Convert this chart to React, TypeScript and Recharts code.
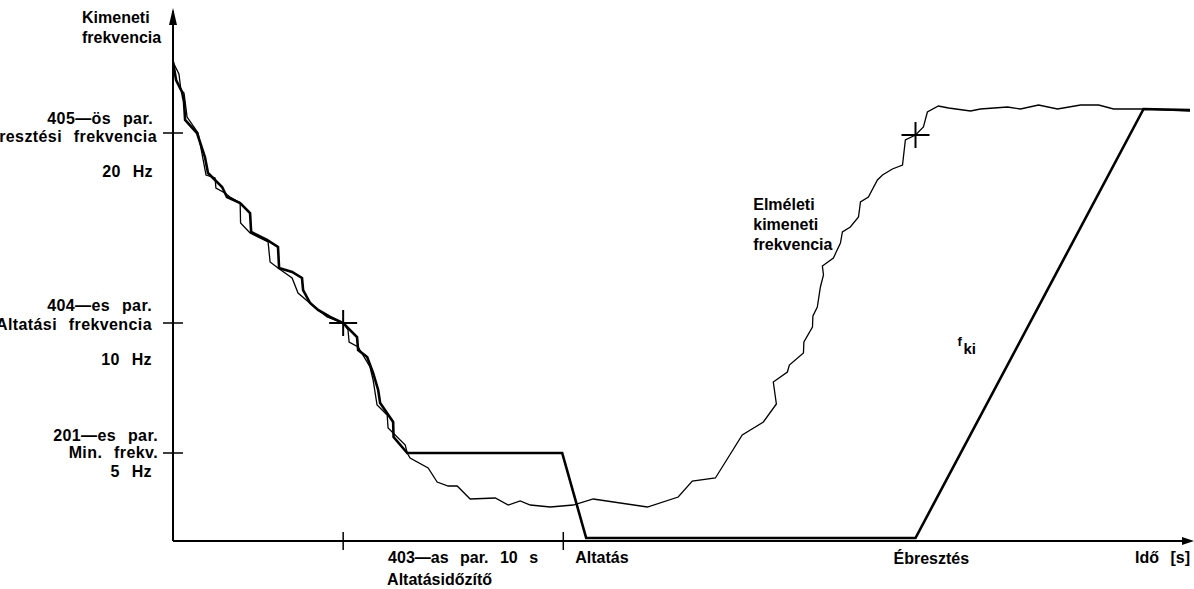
import React from 'react';
import { ComposedChart, Line, XAxis, YAxis, ReferenceDot } from 'recharts';

// ---------- data ----------
// time in seconds, frequency level in diagram units (axis bottom = 0)
const outputTime = [0, 0.14, 0.41, 0.5, 0.55, 1.09, 1.45, 1.59, 2.23, 2.45, 3.05, 3.5, 3.55, 4.27, 4.77, 4.82, 5.41, 5.86, 5.91, 6.23, 6.59, 7.14, 7.73, 8.36, 8.41, 8.82, 9.09, 9.32, 9.41, 10.0, 10.02, 10.64, 17.68, 18.77, 33.73, 44.09, 46.2];
const outputFreq = [479, 461, 449, 439, 421, 408, 384, 368, 354, 344, 338, 328, 309, 301, 294, 273, 269, 263, 251, 238, 231, 224, 218, 204, 191, 184, 168, 151, 138, 119, 104, 88, 88, 3, 3, 432, 431];

const theoryTime = [0, 0.27, 0.36, 0.5, 0.64, 1.14, 1.5, 1.91, 1.95, 2.36, 2.59, 3.05, 3.07, 3.5, 4.32, 4.41, 4.77, 5.41, 5.68, 6.32, 7.0, 7.73, 7.95, 8.0, 8.41, 8.95, 9.09, 9.27, 9.73, 9.77, 10.55, 10.64, 10.77, 11.59, 12.0, 12.5, 12.91, 13.5, 14.64, 15.23, 15.77, 16.23, 17.14, 18.18, 19.09, 21.55, 22.95, 23.59, 24.64, 25.86, 26.82, 27.41, 27.27, 27.91, 28.0, 28.64, 28.66, 29.05, 29.07, 29.27, 29.41, 29.55, 29.5, 30.0, 30.32, 30.41, 30.77, 31.14, 31.23, 31.59, 32.0, 32.23, 32.68, 33.14, 33.27, 33.73, 34.09, 34.27, 34.77, 35.23, 36.23, 36.68, 37.91, 38.5, 39.32, 40.18, 41.23, 42.05, 42.73, 44.09, 46.2];
const theoryFreq = [479, 467, 451, 448, 424, 408, 366, 363, 353, 348, 344, 338, 318, 308, 299, 279, 273, 263, 248, 236, 224, 218, 211, 199, 194, 174, 161, 136, 126, 113, 96, 88, 83, 73, 59, 55, 55, 42, 43, 36, 40, 36, 34, 36, 42, 34, 44, 60, 63, 106, 119, 137, 159, 169, 176, 188, 199, 214, 225, 234, 254, 266, 275, 283, 298, 309, 314, 324, 339, 344, 361, 366, 372, 376, 401, 406, 414, 429, 435, 433, 430, 432, 434, 432, 436, 432, 436, 436, 432, 432, 430];

const yTickValues = [88, 218, 408];
const yTickLabels: Record<number, string[]> = {
  408: ['405—ös par.', 'Ébresztési frekvencia', '20 Hz'],
  218: ['404—es par.', 'Altatási frekvencia', '10 Hz'],
  88: ['201—es par.', 'Min. frekv.', '5 Hz'],
};
const xTickValues = [7.73, 17.73];

const markerTimes = [7.73, 33.73];
const markerFreqs = [218, 406];

const outputData = outputTime.map((t, i) => ({ t, f: outputFreq[i] }));
const theoryData = theoryTime.map((t, i) => ({ t, f: theoryFreq[i] }));

// ---------- layout / style ----------
const FONT = '"Liberation Sans", Arial, sans-serif';
const textStyle: React.CSSProperties = { wordSpacing: 7 };
const yTextStyle: React.CSSProperties = { wordSpacing: 7, letterSpacing: 0.4 };

// per-tick label offsets: [dx (end anchor), dy baseline]
const yTickOffsets: Record<number, [number, number][]> = {
  408: [[-20, -9], [-16, 9], [-20, 44]],
  218: [[-21, -12], [-21, 7], [-21, 42]],
  88: [[-15, -12], [-15, 5], [-21, 24]],
};

const YTick = (props: any) => {
  const { x, y, payload } = props;
  const v = payload.value as number;
  const lines = yTickLabels[v] || [];
  const offs = yTickOffsets[v] || [];
  return (
    <g>
      <line x1={x - 10} x2={x + 10} y1={y} y2={y} stroke="#000" strokeWidth={1.5} />
      {lines.map((s, i) => (
        <text
          key={i}
          x={x + offs[i][0]}
          y={y + offs[i][1]}
          textAnchor="end"
          fontFamily={FONT}
          fontWeight="bold"
          fontSize={16}
          fill="#000"
          style={yTextStyle}
        >
          {s}
        </text>
      ))}
    </g>
  );
};

const XTick = (props: any) => {
  const { x, y } = props;
  return <line x1={x} x2={x} y1={y - 9} y2={y + 9} stroke="#000" strokeWidth={1.5} />;
};

const Cross = (props: any) => {
  const { cx, cy } = props;
  return (
    <g stroke="#000" strokeWidth={2}>
      <line x1={cx - 14} x2={cx + 14} y1={cy} y2={cy} />
      <line x1={cx} x2={cx} y1={cy - 13} y2={cy + 13} />
    </g>
  );
};

const makeText =
  (lines: string[], dx: number, dy: number, gap: number, anchor: 'start' | 'end' | 'middle' = 'start') =>
  (props: any) => {
    const { cx, cy } = props;
    return (
      <g>
        {lines.map((s, i) => (
          <text
            key={i}
            x={cx + dx}
            y={cy + dy + i * gap}
            textAnchor={anchor}
            fontFamily={FONT}
            fontWeight="bold"
            fontSize={16}
            fill="#000"
            style={textStyle}
          >
            {s}
          </text>
        ))}
      </g>
    );
  };

const UpArrow = (props: any) => {
  const { cx, cy } = props;
  return <polygon points={`${cx},${cy - 3} ${cx - 4},${cy + 14} ${cx + 4},${cy + 14}`} fill="#000" />;
};
const RightArrow = (props: any) => {
  const { cx, cy } = props;
  return <polygon points={`${cx + 4},${cy} ${cx - 8},${cy - 4} ${cx - 8},${cy + 4}`} fill="#000" />;
};

const FkiLabel = (props: any) => {
  const { cx, cy } = props;
  return (
    <g fontFamily={FONT} fontWeight="bold" fill="#000">
      <text x={cx} y={cy} fontSize={13}>f</text>
      <text x={cx + 6} y={cy + 8} fontSize={15}>ki</text>
    </g>
  );
};

export default function App() {
  return (
    <div style={{ position: 'absolute', left: 0, top: 0, width: 1194, height: 589, background: '#fff' }}>
      <ComposedChart width={1194} height={589} margin={{ top: 11, right: 4, left: 0, bottom: 0 }}>
        <XAxis
          type="number"
          dataKey="t"
          domain={[0, 46.2]}
          ticks={xTickValues}
          tick={<XTick />}
          tickLine={false}
          tickSize={0}
          tickMargin={0}
          height={48}
          axisLine={{ stroke: '#000', strokeWidth: 2 }}
          allowDataOverflow
        />
        <YAxis
          type="number"
          dataKey="f"
          domain={[0, 530]}
          ticks={yTickValues}
          tick={<YTick />}
          tickLine={false}
          tickSize={0}
          tickMargin={0}
          width={173}
          axisLine={{ stroke: '#000', strokeWidth: 2 }}
          allowDataOverflow
        />
        <Line
          data={theoryData}
          dataKey="f"
          type="linear"
          stroke="#000"
          strokeWidth={1.3}
          dot={false}
          activeDot={false}
          isAnimationActive={false}
        />
        <Line
          data={outputData}
          dataKey="f"
          type="linear"
          stroke="#000"
          strokeWidth={2.6}
          dot={false}
          activeDot={false}
          isAnimationActive={false}
        />
        {markerTimes.map((t, i) => (
          <ReferenceDot key={'m' + i} x={t} y={markerFreqs[i]} r={1} ifOverflow="visible" shape={Cross} />
        ))}
        <ReferenceDot x={0} y={530} r={1} ifOverflow="visible" shape={UpArrow} />
        <ReferenceDot x={46.2} y={0} r={1} ifOverflow="visible" shape={RightArrow} />
        <ReferenceDot x={0} y={530} r={1} ifOverflow="visible" shape={makeText(['Kimeneti', 'frekvencia'], -91, 12, 20)} />
        <ReferenceDot x={12.27} y={0} r={1} ifOverflow="visible" shape={makeText(['403—as par. 10 s'], -55, 22, 0)} />
        <ReferenceDot x={12.27} y={0} r={1} ifOverflow="visible" shape={makeText(['Altatásidőzítő'], -56, 44, 0)} />
        <ReferenceDot x={18.27} y={0} r={1} ifOverflow="visible" shape={makeText(['Altatás'], 0, 22, 0)} />
        <ReferenceDot x={32.73} y={0} r={1} ifOverflow="visible" shape={makeText(['Ébresztés'], 0, 23, 0)} />
        <ReferenceDot x={46.2} y={0} r={1} ifOverflow="visible" shape={makeText(['Idő [s]'], 0, 22, 0, 'end')} />
        <ReferenceDot x={26.36} y={331} r={1} ifOverflow="visible" shape={makeText(['Elméleti', 'kimeneti', 'frekvencia'], 0, 0, 20)} />
        <ReferenceDot x={35.64} y={195} r={1} ifOverflow="visible" shape={FkiLabel} />
      </ComposedChart>
    </div>
  );
}
